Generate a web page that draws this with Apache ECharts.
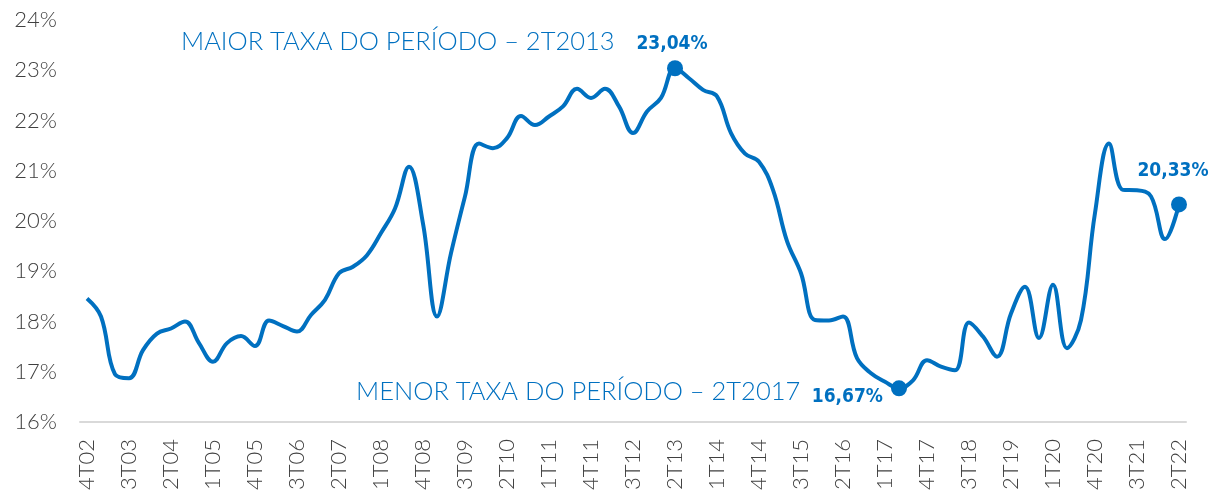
<!DOCTYPE html>
<html>
<head>
<meta charset="utf-8">
<script src="https://cdn.jsdelivr.net/npm/echarts@6/dist/echarts.min.js"></script>
<style>
  html, body { margin: 0; padding: 0; background: #fff; }
  #main { width: 1217px; height: 497px; }
</style>
</head>
<body>
<div id="main"></div>
<script>
var quarters = [
  "4T02",
  "1T03", "2T03", "3T03", "4T03",
  "1T04", "2T04", "3T04", "4T04",
  "1T05", "2T05", "3T05", "4T05",
  "1T06", "2T06", "3T06", "4T06",
  "1T07", "2T07", "3T07", "4T07",
  "1T08", "2T08", "3T08", "4T08",
  "1T09", "2T09", "3T09", "4T09",
  "1T10", "2T10", "3T10", "4T10",
  "1T11", "2T11", "3T11", "4T11",
  "1T12", "2T12", "3T12", "4T12",
  "1T13", "2T13", "3T13", "4T13",
  "1T14", "2T14", "3T14", "4T14",
  "1T15", "2T15", "3T15", "4T15",
  "1T16", "2T16", "3T16", "4T16",
  "1T17", "2T17", "3T17", "4T17",
  "1T18", "2T18", "3T18", "4T18",
  "1T19", "2T19", "3T19", "4T19",
  "1T20", "2T20", "3T20", "4T20",
  "1T21", "2T21", "3T21", "4T21",
  "1T22", "2T22"
];

// taxa (%) por trimestre
var taxa = [
  18.46,
  18.10, 16.95, 16.87, 17.43,
  17.76, 17.86, 18.00, 17.57,
  17.20, 17.57, 17.71, 17.51,
  18.02, 17.91, 17.80, 18.13,
  18.43, 18.96, 19.09, 19.32,
  19.76, 20.25, 21.08, 19.95,
  18.10, 19.36, 20.49, 21.54,
  21.45, 21.65, 22.09, 21.91,
  22.08, 22.28, 22.63, 22.45,
  22.63, 22.28, 21.75, 22.18,
  22.45, 23.04, 22.84, 22.61,
  22.48, 21.75, 21.34, 21.18,
  20.62, 19.60, 18.96, 18.03,
  18.02, 18.10, 17.27, 16.97,
  16.80, 16.67, 16.83, 17.23,
  17.10, 17.03, 17.98, 17.70,
  17.30, 18.16, 18.69, 17.67,
  18.73, 17.47, 18.03, 20.16,
  21.54, 20.62, 20.61, 20.49,
  19.64, 20.33
];

var yTicks = [16, 17, 18, 19, 20, 21, 22, 23, 24];

var blue = "#0070C0";
var gray = "#404040";

var chartDom = document.getElementById("main");
var myChart = echarts.init(chartDom);

var maxIdx = quarters.indexOf("2T13");
var minIdx = quarters.indexOf("2T17");
var lastIdx = quarters.length - 1;

var valueLabel = {
  show: true,
  color: blue,
  fontFamily: "'Liberation Sans Narrow', 'DejaVu Sans Condensed', Roboto, sans-serif",
  fontWeight: "bold",
  fontSize: 19,
  formatter: function (p) {
    return p.value.toFixed(2).replace(".", ",") + "%";
  },
};

var seriesData = taxa.map(function (v, i) {
  if (i === maxIdx) {
    return {
      value: v,
      symbol: "circle",
      symbolSize: 16,
      label: Object.assign({}, valueLabel, { position: "top", distance: 7, offset: [-3, 0] }),
    };
  }
  if (i === minIdx) {
    return {
      value: v,
      symbol: "circle",
      symbolSize: 16,
      label: Object.assign({}, valueLabel, { position: "left", distance: 8, offset: [0, 9] }),
    };
  }
  if (i === lastIdx) {
    return {
      value: v,
      symbol: "circle",
      symbolSize: 16,
      label: Object.assign({}, valueLabel, { position: "top", distance: 16, offset: [-6, 0] }),
    };
  }
  return { value: v, symbol: "none" };
});

var option = {
  animation: false,
  backgroundColor: "#fff",
  grid: {
    left: 80,
    right: 31,
    top: 20,
    bottom: 75,
  },
  xAxis: {
    type: "category",
    data: quarters,
    boundaryGap: true,
    axisLine: { lineStyle: { color: "#d9d9d9", width: 2 } },
    axisTick: { show: false },
    axisLabel: {
      interval: 2,
      rotate: 90,
      margin: 17,
      color: gray,
      fontFamily: "Lato",
      fontWeight: 300,
      fontSize: 22,
    },
  },
  yAxis: {
    type: "value",
    min: yTicks[0],
    max: yTicks[yTicks.length - 1],
    interval: 1,
    axisLine: { show: false },
    axisTick: { show: false },
    splitLine: { show: false },
    axisLabel: {
      margin: 23,
      color: gray,
      fontFamily: "Lato",
      fontWeight: 300,
      fontSize: 22,
      formatter: "{value}%",
    },
  },
  graphic: [
    {
      type: "text",
      left: 181,
      top: 29,
      style: {
        text: "MAIOR TAXA DO PERÍODO – 2T2013",
        fill: blue,
        font: "300 25.5px Lato",
      },
    },
    {
      type: "text",
      left: 356,
      top: 379,
      style: {
        text: "MENOR TAXA DO PERÍODO – 2T2017",
        fill: blue,
        font: "300 25.5px Lato",
      },
    },
  ],
  series: [
    {
      type: "line",
      data: seriesData,
      smooth: 0.4,
      showSymbol: true,
      lineStyle: { color: blue, width: 4 },
      itemStyle: { color: blue },
      z: 3,
    },
  ],
};

option && myChart.setOption(option);
</script>
</body>
</html>
